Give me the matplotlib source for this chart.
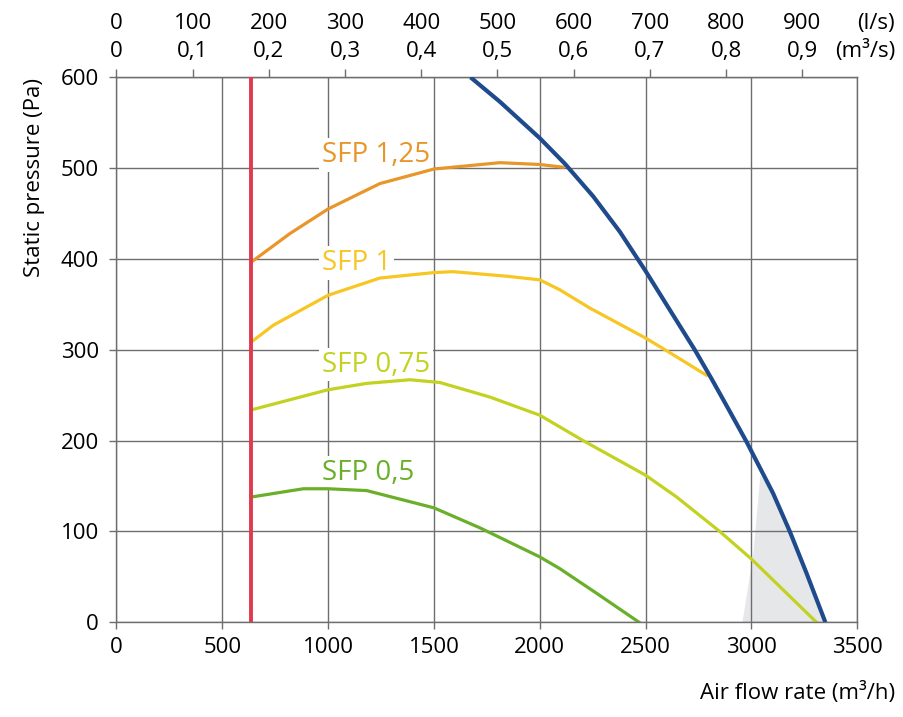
import matplotlib
matplotlib.use("Agg")
import matplotlib.pyplot as plt

plt.rcParams["font.family"] = ["Open Sans", "DejaVu Sans"]

# air flow in m3/h, static pressure in Pa
red_q = 635

fan_q = [1673, 1812, 2000, 2118, 2252, 2378, 2499, 2614, 2732, 2814, 2893, 2976, 3102, 3181, 3260, 3349]
fan_p = [600, 573, 533, 505, 469, 430, 387, 344, 300, 267, 234, 199, 142, 100, 54, 0]

sfp125_q = [640, 820, 1000, 1245, 1500, 1812, 2000, 2110]
sfp125_p = [397, 428, 455, 483, 499, 506, 504, 501]

sfp1_q = [640, 741, 1000, 1245, 1500, 1591, 1843, 2000, 2095, 2236, 2499, 2599, 2787]
sfp1_p = [309, 327, 360, 379, 385, 386, 381, 377, 366, 346, 313, 299, 272]

sfp075_q = [640, 1000, 1182, 1387, 1528, 1764, 2000, 2205, 2499, 2646, 2850, 2998, 3307]
sfp075_p = [234, 256, 263, 267, 264, 248, 228, 200, 162, 138, 100, 70, 0]

sfp05_q = [640, 883, 1000, 1182, 1500, 1717, 2000, 2095, 2268, 2469]
sfp05_p = [138, 147, 147, 145, 126, 104, 72, 59, 32, 0]

shade_q = [2957, 3007, 3042, 3102, 3181, 3260, 3349]
shade_p = [0, 72, 162, 142, 100, 54, 0]

labels = ["SFP 1,25", "SFP 1", "SFP 0,75", "SFP 0,5"]
label_q = [970, 970, 970, 970]
label_p = [507, 388, 276, 157]

x_ticks = [0, 500, 1000, 1500, 2000, 2500, 3000, 3500]
y_ticks = [0, 100, 200, 300, 400, 500, 600]
ls_ticks = [0, 100, 200, 300, 400, 500, 600, 700, 800, 900]
m3s_labels = ["0", "0,1", "0,2", "0,3", "0,4", "0,5", "0,6", "0,7", "0,8", "0,9"]

grid_c = "#6e6e6e"
col_red = "#e2394f"
col_blue = "#1f4a8c"
col_orange = "#e8952a"
col_yellow = "#f7c623"
col_lime = "#c3d221"
col_green = "#6aaf2a"

fig = plt.figure(figsize=(9.04, 7.17), dpi=100)
ax = fig.add_axes([0.1287, 0.1321, 0.8197, 0.7601])

ax.fill(shade_q, shade_p, color="#e6e7e9", lw=0, zorder=0.3)
ax.plot(sfp125_q, sfp125_p, color=col_orange, lw=2.3, zorder=2.5)
ax.plot(sfp1_q, sfp1_p, color=col_yellow, lw=2.3, zorder=2.5)
ax.plot(sfp075_q, sfp075_p, color=col_lime, lw=2.3, zorder=2.5)
ax.plot(sfp05_q, sfp05_p, color=col_green, lw=2.3, zorder=2.5)
ax.plot([red_q, red_q], [0, 600], color=col_red, lw=2.8, zorder=3)
ax.plot(fan_q, fan_p, color=col_blue, lw=3.0, zorder=4, solid_capstyle="butt")

for txt, q, p, c in zip(labels, label_q, label_p, [col_orange, col_yellow, col_lime, col_green]):
    ax.text(q, p, txt, color=c, fontsize=20, ha="left", va="baseline", zorder=2,
            bbox=dict(facecolor="white", edgecolor="none", pad=2))

ax.set_xlim(0, 3500)
ax.set_ylim(0, 600)
ax.set_xticks(x_ticks)
ax.set_yticks(y_ticks)
ax.set_axisbelow(True)
ax.grid(True, color=grid_c, lw=1.0)
for s in ax.spines.values():
    s.set_color(grid_c)
    s.set_linewidth(1.0)
ax.tick_params(axis="both", colors=grid_c, labelcolor="black", labelsize=16, length=4.7, width=1.0)
ax.tick_params(axis="x", pad=6)
ax.tick_params(axis="y", pad=8)

sec = ax.secondary_xaxis("top", functions=(lambda q: q / 3.6, lambda l: l * 3.6))
sec.set_xticks(ls_ticks)
sec.set_xticklabels([f"{l}\n{m}" for l, m in zip(ls_ticks, m3s_labels)])
sec.spines["top"].set_color(grid_c)
sec.tick_params(axis="x", colors=grid_c, labelcolor="black", labelsize=16, length=5.8, width=1.0, pad=5)
for lab in sec.get_xticklabels():
    lab.set_linespacing(1.45)

fig.text(895 / 904, 1 - 24 / 717, "(l/s)", ha="right", va="center", fontsize=16)
fig.text(895 / 904, 1 - 51 / 717, "(m³/s)", ha="right", va="center", fontsize=16)

fig.text(895 / 904, 1 - 699 / 717, "Air flow rate (m³/h)", ha="right", va="baseline", fontsize=16)
fig.text(35 / 904, 1 - 78 / 717, "Static pressure (Pa)", rotation=90, ha="center", va="top", fontsize=16)

fig.savefig("out.png", dpi=100)
